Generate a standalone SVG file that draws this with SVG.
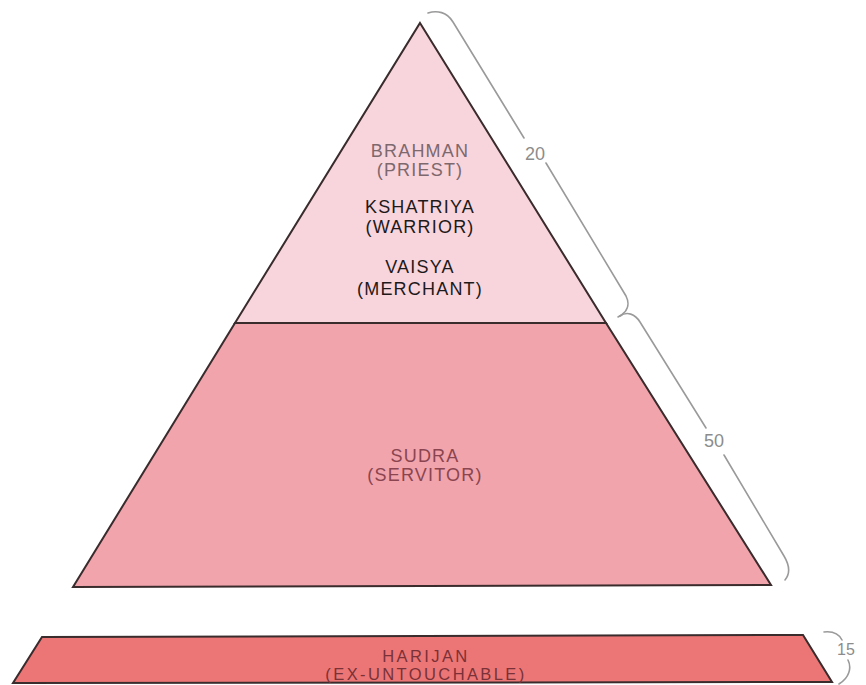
<svg xmlns="http://www.w3.org/2000/svg" width="866" height="685" viewBox="0 0 866 685">
<style>
.tier{stroke:#3a2b2d;stroke-width:2;stroke-linejoin:miter}
.lbl{font-family:"Liberation Sans",Arial,sans-serif;font-size:18px;text-anchor:middle;letter-spacing:1.2px}
.small{font-size:16.5px;letter-spacing:2.4px}
.brace{fill:none;stroke:#9a9a9a;stroke-width:1.6;stroke-linecap:round}
.num{font-family:"Liberation Sans",Arial,sans-serif;font-size:18px;fill:#8c8c8c;text-anchor:middle}
</style>
<rect width="866" height="685" fill="#ffffff"/>
<g id="upper-castes">
<polygon class="tier" points="420,23 606,323 235,323" fill="#f8d5dc"/>
<text class="lbl" x="420" y="157" fill="#7d686e">BRAHMAN</text>
<text class="lbl" x="420" y="176" fill="#7d686e">(PRIEST)</text>
<text class="lbl" x="420" y="213" fill="#1e1a1b">KSHATRIYA</text>
<text class="lbl" x="420" y="233" fill="#1e1a1b">(WARRIOR)</text>
<text class="lbl" x="420" y="273" fill="#1e1a1b">VAISYA</text>
<text class="lbl" x="420" y="295" fill="#1e1a1b">(MERCHANT)</text>
</g>
<g id="sudra">
<polygon class="tier" points="235,323 606,323 771,585 73,587" fill="#f2a4ac"/>
<text class="lbl" x="425" y="462" fill="#8a4550">SUDRA</text>
<text class="lbl" x="425" y="481" fill="#8a4550">(SERVITOR)</text>
</g>
<g id="harijan">
<polygon class="tier" points="42,637 803,635 832,682 13,683" fill="#ec7675"/>
<text class="lbl small" x="426" y="662" fill="#7a3138">HARIJAN</text>
<text class="lbl small" x="426" y="680" fill="#7a3138">(EX-UNTOUCHABLE)</text>
</g>
<g id="connectors">
<path class="brace" d="M428,13 C437,10 447,12 453,22 L524,138"/>
<path class="brace" d="M546,163 L626,296 C630,304 628,312 618,317"/>
<text class="num" x="535" y="160">20</text>
<path class="brace" d="M620,316 C627,311 635,314 640,322 L706,428"/>
<path class="brace" d="M724,455 L784,556 C790,566 790,574 785,580"/>
<text class="num" x="714" y="447">50</text>
<path class="brace" d="M824,632 C833,631 839,634 842,640"/>
<path class="brace" d="M848,660 C852,668 849,678 839,684"/>
<text class="num" x="846" y="655" style="font-size:16px">15</text>
</g>
</svg>
